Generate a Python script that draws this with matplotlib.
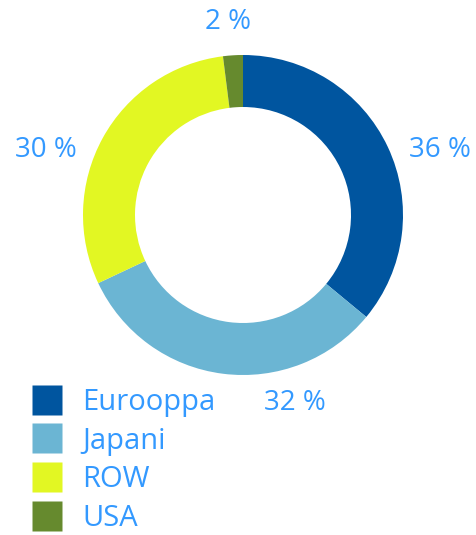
import numpy as np
import matplotlib.pyplot as plt
from matplotlib.lines import Line2D

regions = ['Eurooppa', 'Japani', 'ROW', 'USA']
shares = [36, 32, 30, 2]
colors = ['#00559f', '#6bb5d3', '#e2f723', '#668a2e']
text_color = '#3399ff'

W, H = 476, 535
# label anchor points in pixel coords (from top-left)
label_xy = [(440, 150), (295, 403), (46, 150), (228, 22)]

plt.rcParams['font.family'] = ['Open Sans', 'DejaVu Sans']

fig = plt.figure(figsize=(W / 100, H / 100), dpi=100)
ax = fig.add_axes([0, 0, 1, 1])

cx, cy, r = 243, H - 215, 160
ax.pie(shares, colors=colors, startangle=90, counterclock=False,
       center=(cx, cy), radius=r,
       wedgeprops=dict(width=52, edgecolor='none'))

for val, (x, y) in zip(shares, label_xy):
    ax.text(x, H - y, f'{val} %', ha='center', va='center',
            fontsize=20, color=text_color)

ax.set_xlim(0, W)
ax.set_ylim(0, H)
ax.set_aspect('equal')
ax.axis('off')

handles = [Line2D([], [], marker='s', linestyle='none', markersize=21,
                  markerfacecolor=c, markeredgecolor='none') for c in colors]
leg = ax.legend(handles, regions, loc='upper left',
                bbox_to_anchor=(32 / W, 1 - 388 / H),
                frameon=False, fontsize=21, handlelength=1.0,
                handletextpad=0.72, labelspacing=0.33, borderpad=0,
                borderaxespad=0)
for t in leg.get_texts():
    t.set_color(text_color)

fig.savefig('out.png', dpi=100)
